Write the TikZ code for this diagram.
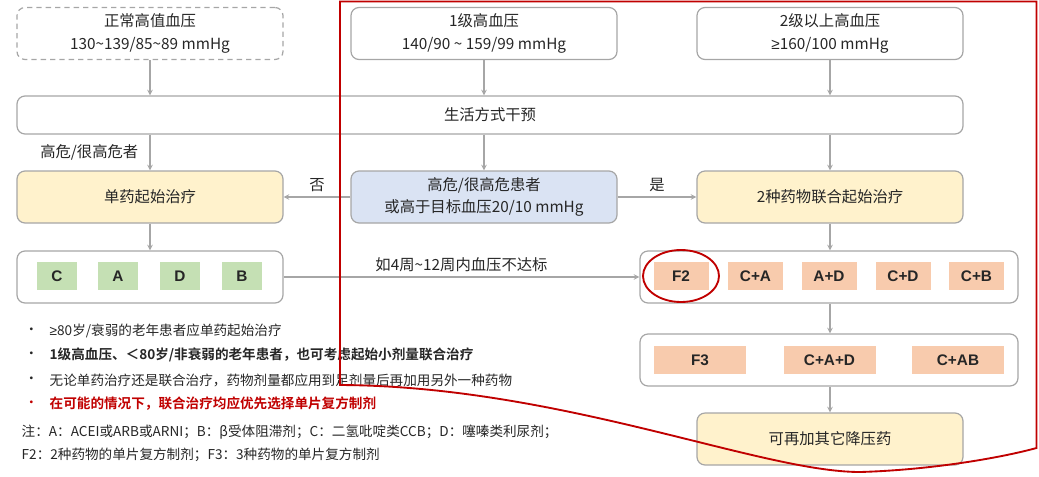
\documentclass[tikz,border=0pt]{standalone}
\usepackage{fontspec}
\setmainfont{Noto Sans CJK SC}[BoldFont={Noto Sans CJK SC Bold}]
\newfontfamily\latinfont{Liberation Sans}
\usepackage{tikz}
\usetikzlibrary{arrows}

\definecolor{box_gray}{HTML}{A6A6A6}
\definecolor{ink}{HTML}{262626}
\definecolor{cream}{HTML}{FFF2CC}
\definecolor{pale_blue}{HTML}{DAE3F3}
\definecolor{drug_green}{HTML}{C5E0B4}
\definecolor{drug_salmon}{HTML}{F8CBAD}
\definecolor{mark_red}{HTML}{C00000}

\begin{document}
\begin{tikzpicture}[x=0.75pt,y=-0.75pt,
					every node/.style = {text=ink, font=\fontsize{11.5}{17}\selectfont},
					link/.style = {->, >=stealth, draw=box_gray, line width=0.9pt}]

\tikzstyle{stage}=[rectangle, rounded corners=6pt, draw=box_gray, line width=0.9pt, minimum width=199.5pt, minimum height=39pt, align=center]
\tikzstyle{drug_set}=[stage, minimum width=283.5pt]
\tikzstyle{mono_drug}=[rectangle, fill=drug_green, minimum width=30pt, minimum height=21pt, font=\latinfont\bfseries\fontsize{11.5}{14}\selectfont]
\tikzstyle{combo_drug}=[mono_drug, fill=drug_salmon, minimum width=41.25pt]
\tikzstyle{note}=[anchor=west, font=\fontsize{10.2}{14}\selectfont]
\tikzstyle{red_line}=[draw=mark_red, line width=1.4pt]

\useasboundingbox (0,0) rectangle (1039,476);

% blood pressure grades
\node[stage, dashed, dash pattern=on 4pt off 3pt] (normal_bp) at (150,33.5) {正常高值血压\\130\textasciitilde 139/85\textasciitilde 89 mmHg};
\node[stage] (grade_one) at (484,33.5) {1级高血压\\140/90 \textasciitilde\ 159/99 mmHg};
\node[stage] (grade_two) at (830,33.5) {2级以上高血压\\{\latinfont ≥}160/100 mmHg};

\node[stage, minimum width=709.5pt, minimum height=28.5pt] (lifestyle) at (490,115) {生活方式干预};

% start of treatment
\node[stage, fill=cream] (mono) at (150,197) {单药起始治疗};
\node[stage, fill=pale_blue] (risk) at (484,197) {高危/很高危患者\\或高于目标血压20/10 mmHg};
\node[stage, fill=cream] (dual) at (830,197) {2种药物联合起始治疗};

% single drugs
\node[stage] (mono_set) at (150,277) {};
\node[mono_drug] (c) at (57,276) {C};
\node[mono_drug] (a) at (118,276) {A};
\node[mono_drug] (d) at (180,276) {D};
\node[mono_drug] (b) at (242,276) {B};

% two drugs
\node[drug_set] (dual_set) at (829,277) {};
\node[combo_drug] (f_two) at (681,276) {F2};
\node[combo_drug] (ca) at (755.5,276) {C+A};
\node[combo_drug] (ad) at (829,276) {A+D};
\node[combo_drug] (cd) at (903,276) {C+D};
\node[combo_drug] (cb) at (976.5,276) {C+B};

% three drugs
\node[drug_set] (triple_set) at (829,360) {};
\node[combo_drug, minimum width=69pt] (f_three) at (700,360) {F3};
\node[combo_drug, minimum width=69pt] (cad) at (829.5,360) {C+A+D};
\node[combo_drug, minimum width=69pt] (cab) at (958,360) {C+AB};

\node[stage, fill=cream] (extra) at (830,439) {可再加其它降压药};

\draw[link] (normal_bp) -- (normal_bp |- lifestyle.north);
\draw[link] (grade_one) -- (grade_one |- lifestyle.north);
\draw[link] (grade_two) -- (grade_two |- lifestyle.north);
\draw[link] (mono |- lifestyle.south) -- (mono) node[midway, left=5pt] {高危/很高危者};
\draw[link] (risk |- lifestyle.south) -- (risk);
\draw[link] (dual |- lifestyle.south) -- (dual);
\draw[link] (risk) -- (mono) node[midway, above] {否};
\draw[link] (risk) -- (dual) node[midway, above] {是};
\draw[link] (mono) -- (mono_set);
\draw[link] (dual) -- (dual |- dual_set.north);
\draw[link] (mono_set) -- (dual_set) node[midway, above] {如4周\textasciitilde 12周内血压不达标};
\draw[link] (dual |- dual_set.south) -- (dual |- triple_set.north);
\draw[link] (dual |- triple_set.south) -- (extra);

% remarks
\node[note] (dot_one) at (20,331) {•};
\node[note] (remark_one) at (45,331) {{\latinfont ≥}80岁/衰弱的老年患者应单药起始治疗};
\node[note] (dot_two) at (20,355) {•};
\node[note, font=\fontsize{10.2}{14}\selectfont\bfseries] (remark_two) at (45,355) {1级高血压、＜80岁/非衰弱的老年患者，也可考虑起始小剂量联合治疗};
\node[note] (dot_three) at (20,380) {•};
\node[note] (remark_three) at (45,380) {无论单药治疗还是联合治疗，药物剂量都应用到足剂量后再加用另外一种药物};
\node[note, text=mark_red] (dot_four) at (20,404) {•};
\node[note, text=mark_red, font=\fontsize{10.2}{14}\selectfont\bfseries] (remark_four) at (45,404) {在可能的情况下，联合治疗均应优先选择单片复方制剂};
\node[note] (legend_one) at (17,432) {注：A：ACEI或ARB或ARNI；B：β受体阻滞剂；C：二氢吡啶类CCB；D：噻嗪类利尿剂；};
\node[note] (legend_two) at (17,455) {F2：2种药物的单片复方制剂；F3：3种药物的单片复方制剂};

% highlight
\draw[red_line] (f_two) ellipse [x radius=28.5pt, y radius=19.5pt];
\draw[red_line] (340,1.5) -- (1036.5,1.5) -- (1036.5,448)
	.. controls (1000,458) and (930,470) .. (860,472)
	.. controls (760,472) and (560,386) .. (340,385) -- cycle;
\end{tikzpicture}
\end{document}
